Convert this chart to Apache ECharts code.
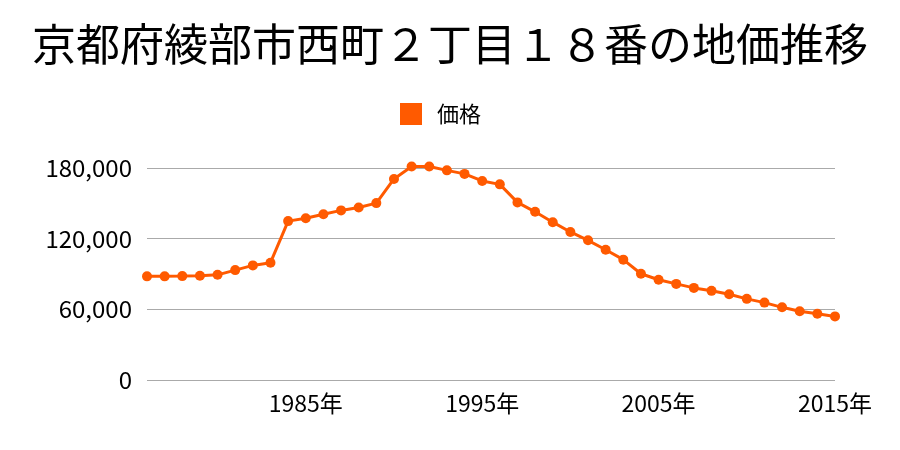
<!DOCTYPE html>
<html><head><meta charset="utf-8">
<script src="https://cdn.jsdelivr.net/npm/echarts@6/dist/echarts.min.js"></script>
<style>html,body{margin:0;padding:0;background:#fff}#c{width:900px;height:450px}</style>
</head><body><div id="c"></div>
<script>
const titleText = '京都府綾部市西町２丁目１８番の地価推移';
const seriesName = '価格';
const years = ['1976','1977','1978','1979','1980','1981','1982','1983','1984','1985','1986','1987','1988','1989','1990','1991','1992','1993','1994','1995','1996','1997','1998','1999','2000','2001','2002','2003','2004','2005','2006','2007','2008','2009','2010','2011','2012','2013','2014','2015'];
const prices = [88000,88000,88200,88500,89300,93300,97300,99600,134900,137400,140800,144000,146500,150200,170700,181200,181200,178000,175000,169000,166100,150800,142800,134000,125700,118600,110600,102200,90200,85100,81600,78200,75700,72800,68900,65700,61700,58300,56300,54000];
const labeledYears = ['1985','1995','2005','2015'];
const yTicks = [0,60000,120000,180000];

const chart = echarts.init(document.getElementById('c'));
const font = '"Noto Sans CJK JP", sans-serif';
chart.setOption({
  animation:false,
  textStyle:{fontFamily:font},
  title:{text:titleText,left:'center',top:17,textStyle:{fontFamily:font,fontSize:44,fontWeight:'normal',color:'#000'}},
  legend:{data:[seriesName],top:98,left:395,itemWidth:22,itemHeight:22,icon:'rect',itemGap:14,
    textStyle:{fontFamily:font,fontSize:22,color:'#000',padding:[0,0,0,10]}},
  grid:{left:147,right:65,top:168,bottom:70,containLabel:false},
  xAxis:{type:'category',data:years,boundaryGap:false,
    axisLine:{show:false},axisTick:{show:false},splitLine:{show:false},
    axisLabel:{interval:(i,v)=>labeledYears.includes(v),formatter:v=>v+'年',fontSize:23,color:'#000',margin:12,fontFamily:font}},
  yAxis:{type:'value',min:0,max:yTicks[yTicks.length-1],interval:60000,
    axisLine:{show:false},axisTick:{show:false},
    splitLine:{lineStyle:{color:'#aaaaaa',width:1}},
    axisLabel:{fontSize:24,color:'#000',margin:15,fontFamily:font,formatter:v=>v.toLocaleString('en-US')}},
  series:[{name:seriesName,type:'line',data:prices,color:'#ff5a00',clip:false,
    symbol:'circle',symbolSize:10,lineStyle:{width:3,color:'#ff5a00'},itemStyle:{color:'#ff5a00'}}]
});
</script></body></html>
